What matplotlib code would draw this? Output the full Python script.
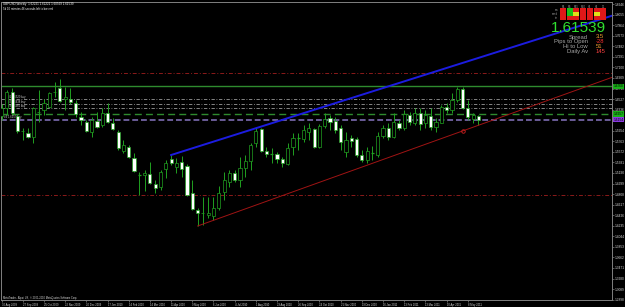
import matplotlib.pyplot as plt
from matplotlib.patches import Rectangle

# weekly GBPUSD candles, 30 Aug 2009 .. May 2011
opens = [1.6221, 1.6366, 1.6660, 1.6220, 1.5955, 1.5913, 1.5841, 1.6290, 1.6330, 1.6384,
         1.6650, 1.6728, 1.6529, 1.6529, 1.6456, 1.6203, 1.6112, 1.5931, 1.6131, 1.6058,
         1.6275, 1.6094, 1.5931, 1.5588, 1.5660, 1.5461, 1.5150, 1.5153, 1.5171, 1.4990,
         1.4936, 1.5262, 1.5443, 1.5298, 1.5388, 1.5316, 1.4827, 1.4520, 1.4460, 1.4429,
         1.4411, 1.4556, 1.4845, 1.5026, 1.5189, 1.5063, 1.5280, 1.5407, 1.5732, 1.5986,
         1.5588, 1.5530, 1.5533, 1.5443, 1.5352, 1.5660, 1.5820, 1.5805, 1.5931, 1.5986,
         1.5660, 1.6040, 1.6185, 1.6131, 1.6004, 1.5569, 1.5823, 1.5805, 1.5515, 1.5425,
         1.5548, 1.5515, 1.5859, 1.6004, 1.5841, 1.6094, 1.6004, 1.6239, 1.6094, 1.6275,
         1.6094, 1.6221, 1.6022, 1.6094, 1.6384, 1.6330, 1.6511, 1.6710, 1.6366, 1.6167,
         1.6221]
highs = [1.6438, 1.6692, 1.6728, 1.6239, 1.6004, 1.6004, 1.6384, 1.6692, 1.6529, 1.6655,
         1.6837, 1.6891, 1.6746, 1.6728, 1.6511, 1.6293, 1.6149, 1.6203, 1.6293, 1.6366,
         1.6456, 1.6185, 1.5968, 1.5787, 1.5696, 1.5551, 1.5207, 1.5244, 1.5388, 1.5063,
         1.5244, 1.5425, 1.5515, 1.5461, 1.5497, 1.5352, 1.5063, 1.4556, 1.4755, 1.4755,
         1.4755, 1.4954, 1.5207, 1.5244, 1.5244, 1.5479, 1.5515, 1.5732, 1.6022, 1.6004,
         1.5660, 1.5642, 1.5569, 1.5479, 1.5732, 1.5913, 1.5913, 1.6058, 1.6094, 1.6004,
         1.6076, 1.6275, 1.6239, 1.6203, 1.6058, 1.5931, 1.5877, 1.5841, 1.5606, 1.5660,
         1.5678, 1.5931, 1.6058, 1.6094, 1.6275, 1.6149, 1.6330, 1.6293, 1.6366, 1.6366,
         1.6330, 1.6366, 1.6185, 1.6420, 1.6456, 1.6637, 1.6746, 1.6746, 1.6511, 1.6275,
         1.6239]
lows = [1.6149, 1.6239, 1.6239, 1.5913, 1.5787, 1.5823, 1.5732, 1.6112, 1.6239, 1.6366,
        1.6565, 1.6474, 1.6330, 1.6438, 1.6203, 1.6058, 1.5931, 1.5841, 1.6004, 1.6022,
        1.6094, 1.5968, 1.5606, 1.5551, 1.5461, 1.5207, 1.4791, 1.4864, 1.4990, 1.4827,
        1.4882, 1.5099, 1.5334, 1.5189, 1.5117, 1.4773, 1.4520, 1.4230, 1.4248, 1.4375,
        1.4339, 1.4520, 1.4701, 1.4936, 1.5026, 1.4936, 1.5117, 1.5244, 1.5660, 1.5569,
        1.5479, 1.5370, 1.5370, 1.5298, 1.5334, 1.5515, 1.5606, 1.5750, 1.5787, 1.5642,
        1.5642, 1.6004, 1.5968, 1.5913, 1.5606, 1.5479, 1.5660, 1.5479, 1.5388, 1.5370,
        1.5425, 1.5479, 1.5823, 1.5787, 1.5823, 1.5968, 1.5968, 1.6058, 1.6058, 1.5968,
        1.6004, 1.5968, 1.5931, 1.6094, 1.6275, 1.6275, 1.6474, 1.6348, 1.6149, 1.6094,
        1.6058]
closes = [1.6366, 1.6655, 1.6275, 1.5950, 1.5945, 1.5841, 1.6366, 1.6300, 1.6456, 1.6637,
          1.6660, 1.6493, 1.6565, 1.6474, 1.6257, 1.6149, 1.5950, 1.6149, 1.6022, 1.6275,
          1.6112, 1.5986, 1.5642, 1.5696, 1.5479, 1.5226, 1.5156, 1.5189, 1.5008, 1.4918,
          1.5207, 1.5370, 1.5370, 1.5370, 1.5262, 1.4791, 1.4538, 1.4465, 1.4470, 1.4465,
          1.4556, 1.4827, 1.5063, 1.5189, 1.5063, 1.5280, 1.5407, 1.5696, 1.5950, 1.5588,
          1.5533, 1.5536, 1.5443, 1.5370, 1.5642, 1.5823, 1.5826, 1.5968, 1.6004, 1.5660,
          1.6040, 1.6167, 1.6112, 1.5968, 1.5750, 1.5787, 1.5769, 1.5515, 1.5425, 1.5588,
          1.5554, 1.5859, 1.6004, 1.5841, 1.6112, 1.6004, 1.6257, 1.6112, 1.6275, 1.6076,
          1.6239, 1.6022, 1.6112, 1.6384, 1.6330, 1.6511, 1.6710, 1.6366, 1.6203, 1.6239,
          1.6154]

date_idx = [0, 4, 8, 12, 16, 20, 24, 28, 32, 36, 40, 44, 48, 52, 56, 60, 64, 68, 72, 76, 80, 84, 88]
date_labels = ["30 Aug 2009", "27 Sep 2009", "25 Oct 2009", "22 Nov 2009", "20 Dec 2009",
               "17 Jan 2010", "14 Feb 2010", "14 Mar 2010", "11 Apr 2010", "9 May 2010",
               "6 Jun 2010", "4 Jul 2010", "1 Aug 2010", "29 Aug 2010", "26 Sep 2010",
               "24 Oct 2010", "21 Nov 2010", "19 Dec 2010", "16 Jan 2011", "13 Feb 2011",
               "13 Mar 2011", "10 Apr 2011", "8 May 2011"]

price_ticks = [1.2898, 1.3089, 1.3280, 1.3471, 1.3662, 1.3853, 1.4044, 1.4235, 1.4426, 1.4617,
               1.4808, 1.4999, 1.5190, 1.5381, 1.5572, 1.5763, 1.5954, 1.6145, 1.6336, 1.6527,
               1.6718, 1.6909, 1.7100, 1.7291, 1.7482, 1.7673, 1.7864, 1.8055, 1.8246]

# trend lines (anchor points: bar index, price)
blue_line = [(32, 1.5515), (86, 1.7151)]
red_line = [(37, 1.4230), (87, 1.5950)]

# horizontal levels
red_levels = [1.7000, 1.4800]
green_level = 1.6760
order_levels = [1.6529, 1.6438, 1.6366]
order_green = 1.6257
bid = 1.61539

header = "GBPUSD,Weekly  1.62221 1.62221 1.60569 1.61539"
timer_text = "5d 10 minutes 46 seconds left to bar end"

stats_names = ["Spread", "Pips to Open", "Hi to Low", "Daily Av"]
stats_values = ["3.5", "-28", "51", "145"]
stats_colors = ["#f0a030", "#ff3030", "#f0a030", "#ff4040"]

grid_cols = ["M1", "M5", "M15", "M30", "H1", "H4", "D1"]
grid_colors = [
    ["#e01818", "#18c018", "#e01818", "#e01818", "#e01818", "#e01818", "#e01818"],
    ["#e01818", "#18c018", "#e0e018", "#e01818", "#e01818", "#e0e018", "#e01818"],
    ["#e01818", "#e01818", "#e01818", "#e01818", "#e01818", "#e01818", "#e01818"],
]

W, H = 625, 307
XMIN, XMAX = -0.1, 115.2
YMIN, YMAX = 1.2891, 1.8284
GREEN = "#20a020"


def px(x, y):
    return x / W, 1 - y / H


def main():
    fig = plt.figure(figsize=(W / 100, H / 100), dpi=100, facecolor="black")
    plt.rcParams['font.family'] = ['Liberation Sans', 'DejaVu Sans']
    ax = fig.add_axes([1 / W, 7 / H, 611 / W, 298 / H], facecolor="black")
    ax.set_xlim(XMIN, XMAX)
    ax.set_ylim(YMIN, YMAX)

    # horizontal levels
    for lv in red_levels:
        ax.axhline(lv, color="#8b1a1a", lw=0.7, ls=(0, (4, 2, 1, 2)))
    ax.axhline(green_level, color="#2e8b2e", lw=1.0)
    for lv in order_levels:
        ax.axhline(lv, color="#9a9a9a", lw=0.6, ls=(0, (4, 2, 1, 2)))
    ax.axhline(order_green, color="#2e8b2e", lw=1.0, ls=(0, (5, 3)))
    ax.axhline(bid, color="#6a5c98", lw=1.4, ls=(0, (3, 1.5)))

    # candles
    for i in range(len(opens)):
        o, h, l, c = opens[i], highs[i], lows[i], closes[i]
        ax.vlines(i, l, h, color=GREEN, lw=0.7, zorder=3)
        bottom, top = min(o, c), max(o, c)
        face = "white" if c < o else "black"
        if top - bottom < 0.0008:
            ax.hlines((o + c) / 2, i - 0.3, i + 0.3, color=GREEN, lw=0.9, zorder=4)
        else:
            ax.add_patch(Rectangle((i - 0.3, bottom), 0.6, top - bottom, facecolor=face,
                                   edgecolor=GREEN, lw=0.5, zorder=4))

    # trend lines extended to the right edge
    (x0, y0), (x1, y1) = blue_line
    k = (y1 - y0) / (x1 - x0)
    ax.plot([x0, XMAX], [y0, y0 + k * (XMAX - x0)], color="#1c1ce0", lw=1.4, zorder=5)
    (x0, y0), (x1, y1) = red_line
    k = (y1 - y0) / (x1 - x0)
    ax.plot([x0, XMAX], [y0, y0 + k * (XMAX - x0)], color="#a01414", lw=0.7, zorder=5)
    ax.plot(x1, y1, "o", ms=2.5, mfc="none", mec="#d02020", mew=0.6, zorder=6)

    # order labels at left
    for n, lv in enumerate(order_levels):
        ax.text(1.2, lv, "#%d %.4f buy" % (n + 1, lv), color="#c8c8c8", fontsize=2.0,
                va="bottom", ha="left")
    ax.text(0.4, bid + 0.001, "#4 %.4f buy" % order_green, color="#c8c8c8", fontsize=2.0,
            va="bottom", ha="left")

    # axes styling
    for sp in ax.spines.values():
        sp.set_color("#808080")
        sp.set_linewidth(0.7)
    ax.yaxis.tick_right()
    ax.set_yticks(price_ticks)
    ax.set_yticklabels(["%.4f" % t for t in price_ticks])
    ax.tick_params(axis="y", colors="#808080", labelcolor="#d8d8d8", labelsize=2.3,
                   length=1.5, width=0.5, pad=0.4)
    ax.set_xticks(date_idx)
    ax.set_xticklabels(date_labels)
    ax.tick_params(axis="x", colors="#808080", labelcolor="#d8d8d8", labelsize=1.9,
                   length=1.5, width=0.5, pad=0.5, direction="out")
    for lbl in ax.get_xticklabels():
        lbl.set_ha("left")

    # highlighted price labels on the axis
    for lv, bg in [(green_level, "#18b018"), (order_green, "#18b018"), (bid, "#8a3ae0")]:
        ax.text(1.002, lv, "%.4f" % lv, transform=ax.get_yaxis_transform(), fontsize=2.3,
                color="black", va="center", ha="left", zorder=10,
                bbox=dict(boxstyle="square,pad=0.2", fc=bg, ec="none"))

    # header texts
    fig.text(*px(3, 4.5), header, color="white", fontsize=2.2, va="center")
    fig.text(*px(3, 9), timer_text, color="white", fontsize=2.0, va="center")
    fig.text(*px(3, 298), "MetaTrader - Alpari UK, \u00a9 2001-2010 MetaQuotes Software Corp.",
             color="#d8d8d8", fontsize=1.8, va="center")

    # signal grid top right
    for j, name in enumerate(grid_cols):
        fig.text(*px(563 + 6.7 * j, 6.5), name, color="#a0a0a0", fontsize=1.8,
                 ha="center", va="center")
        for r, row in enumerate(grid_colors):
            x, y = px(560 + 6.7 * j, 12 + 4 * r)
            fig.patches.append(Rectangle((x, y), 6 / W, 3.6 / H, transform=fig.transFigure,
                                         facecolor=row[j], edgecolor="none"))
    for r, name in enumerate(["ma", "macd", "str"]):
        fig.text(*px(558, 10 + 4 * r), name, color="#a0a0a0", fontsize=1.8, ha="right",
                 va="center")

    fig.text(*px(606, 28), "%.5f" % bid, color="#30e030", fontsize=11, ha="right",
             va="center")
    for r, (name, val, col) in enumerate(zip(stats_names, stats_values, stats_colors)):
        fig.text(*px(588, 37 + 4.8 * r), name, color="#a8a8a8", fontsize=4.2, ha="right",
                 va="center")
        fig.text(*px(596, 37 + 4.8 * r), val, color=col, fontsize=4.2, ha="left",
                 va="center")

    fig.savefig("out.png", dpi=100, facecolor="black")


if __name__ == "__main__":
    main()
